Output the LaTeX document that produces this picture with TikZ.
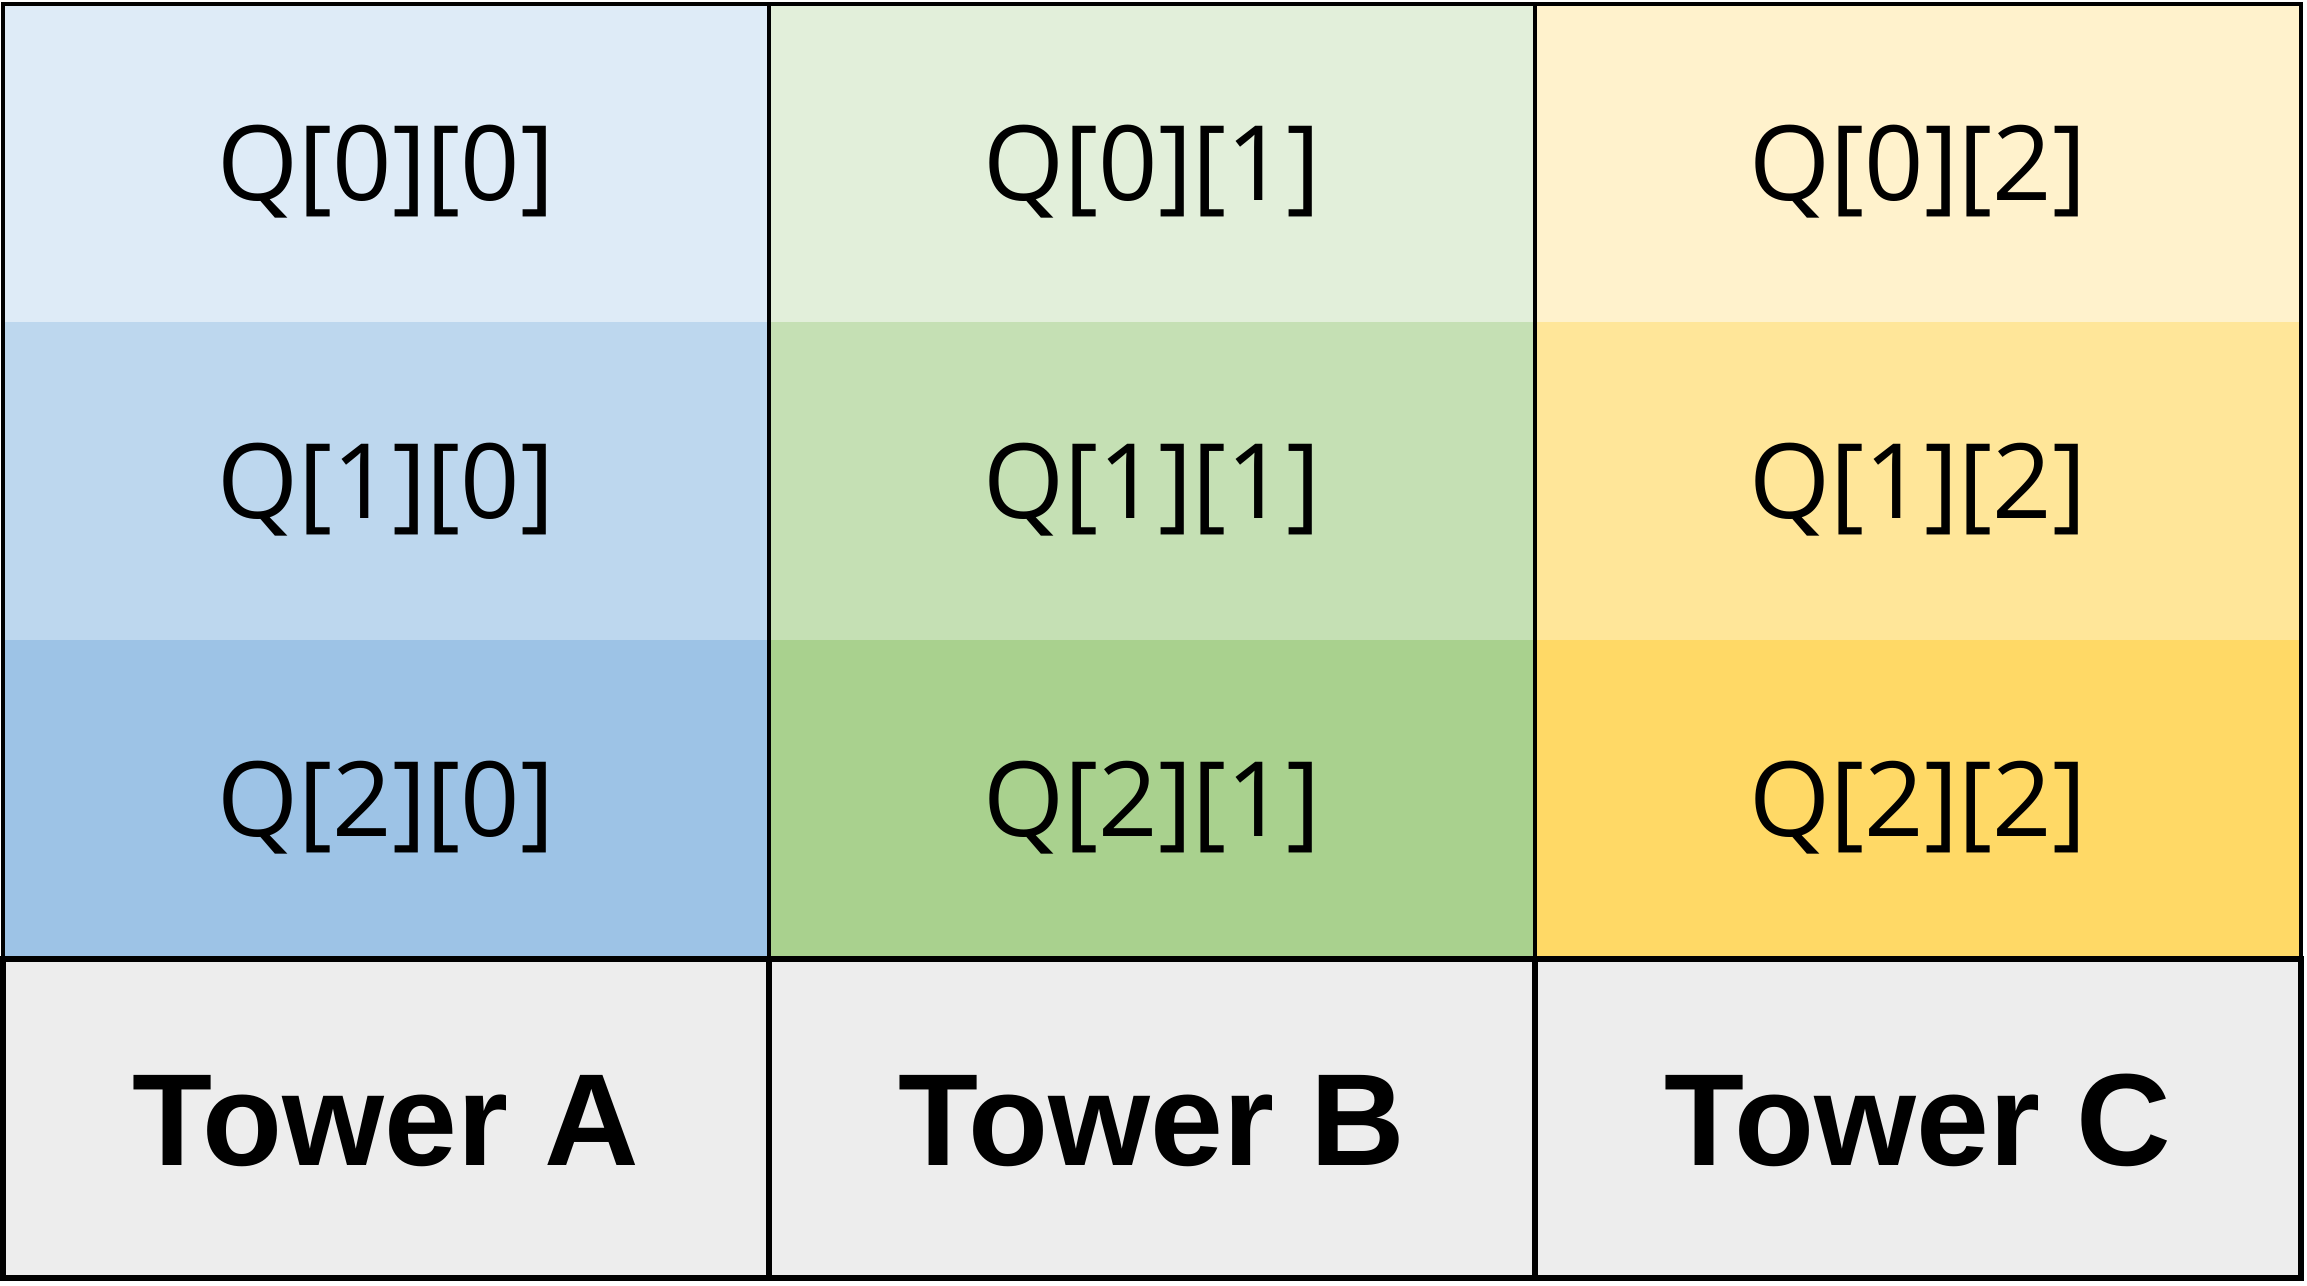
\documentclass[tikz,border=0pt]{standalone}
\usepackage{fontspec}
\setmainfont{Liberation Sans}
\newfontfamily\qfont{Open Sans}
\definecolor{bA}{HTML}{DEEBF7}
\definecolor{bB}{HTML}{BDD7EE}
\definecolor{bC}{HTML}{9DC3E6}
\definecolor{gA}{HTML}{E2EFDA}
\definecolor{gB}{HTML}{C5E0B4}
\definecolor{gC}{HTML}{A9D18E}
\definecolor{yA}{HTML}{FFF2CC}
\definecolor{yB}{HTML}{FFE699}
\definecolor{yC}{HTML}{FFD966}
\definecolor{grey}{HTML}{EDEDED}
\begin{document}
\begin{tikzpicture}[x=1pt,y=-1pt,
  qcell/.style={minimum width=766pt, minimum height=318pt, inner sep=0pt, outer sep=0pt,
    font=\qfont\fontsize{104}{130}\selectfont, text height=74pt, text depth=0pt},
  tcell/.style={minimum width=766pt, minimum height=319pt, inner sep=0pt, outer sep=0pt,
    fill=grey, font=\fontsize{131}{150}\selectfont\bfseries, text height=94pt, text depth=0pt},
  thin line/.style={line width=4pt},
  thick line/.style={line width=6pt}]
\useasboundingbox (0,0) rectangle (2307,1285);
\fill[white] (0,0) rectangle (2307,1285);
% coloured cells
\node[qcell, fill=bA] (q00) at (386,163) {Q[0][0]};
\node[qcell, fill=bB] (q10) at (386,481) {Q[1][0]};
\node[qcell, fill=bC] (q20) at (386,799) {Q[2][0]};
\node[qcell, fill=gA] (q01) at (1152,163) {Q[0][1]};
\node[qcell, fill=gB] (q11) at (1152,481) {Q[1][1]};
\node[qcell, fill=gC] (q21) at (1152,799) {Q[2][1]};
\node[qcell, fill=yA] (q02) at (1918,163) {Q[0][2]};
\node[qcell, fill=yB] (q12) at (1918,481) {Q[1][2]};
\node[qcell, fill=yC] (q22) at (1918,799) {Q[2][2]};
% tower cells
\node[tcell] (ta) at (386,1118) {Tower A};
\node[tcell] (tb) at (1152,1118) {Tower B};
\node[tcell] (tc) at (1918,1118) {Tower C};
% borders of the coloured part
\draw[thin line] (q00.north west) rectangle (q22.south east);
\draw[thin line] (q00.north east) -- (q20.south east);
\draw[thin line] (q01.north east) -- (q21.south east);
% borders of the tower row
\draw[thick line] (ta.north west) rectangle (tc.south east);
\draw[thick line] (ta.north east) -- (ta.south east);
\draw[thick line] (tb.north east) -- (tb.south east);
\end{tikzpicture}
\end{document}
